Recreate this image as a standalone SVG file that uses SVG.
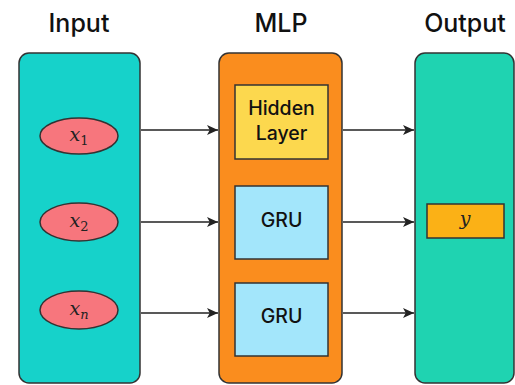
<svg xmlns="http://www.w3.org/2000/svg" width="515" height="385" viewBox="0 0 515 385">
<style>
.title{font-family:Inter,"Liberation Sans",Arial,sans-serif;font-size:25px;font-weight:500;fill:#111;text-anchor:middle}
.lbl{font-family:Inter,"Liberation Sans",Arial,sans-serif;font-size:19.5px;font-weight:500;fill:#111;text-anchor:middle}
.math{font-family:"DejaVu Serif","Liberation Serif",serif;font-style:italic;font-size:19px;fill:#222;text-anchor:middle}
.sub{font-style:normal;font-size:13px}
.panel{stroke:#333;stroke-width:1.5}
.box{stroke:#333;stroke-width:1.5}
.conn{stroke:#222;stroke-width:1.6;fill:none;marker-end:url(#ah)}
</style>
<defs>
<marker id="ah" viewBox="0 0 10 10" refX="10" refY="5" markerWidth="11" markerHeight="11" markerUnits="userSpaceOnUse" orient="auto">
<path d="M0,0.5 L10,5 L0,9.5 L2.5,5 Z" fill="#222"/>
</marker>
</defs>
<rect width="515" height="385" fill="#fff"/>
<text class="title" x="79" y="32">Input</text>
<text class="title" x="281" y="32">MLP</text>
<text class="title" x="465" y="32">Output</text>

<g id="input">
<rect class="panel" x="19" y="53" width="121" height="330" rx="10" fill="#16d2ca"/>
</g>
<g id="mlp">
<rect class="panel" x="219" y="53" width="123" height="330" rx="10" fill="#fa8d1e"/>
</g>
<g id="output">
<rect class="panel" x="415" y="53" width="99" height="330" rx="10" fill="#1fd3b1"/>
</g>

<g id="x1">
<ellipse class="box" cx="79" cy="136" rx="39" ry="18" fill="#f7767d"/>
<text class="math" x="79" y="141">x<tspan class="sub" dy="4">1</tspan></text>
</g>
<g id="x2">
<ellipse class="box" cx="79" cy="222" rx="39" ry="19" fill="#f7767d"/>
<text class="math" x="79" y="227">x<tspan class="sub" dy="4">2</tspan></text>
</g>
<g id="xn">
<ellipse class="box" cx="79" cy="310" rx="39" ry="19" fill="#f7767d"/>
<text class="math" x="79" y="315">x<tspan class="sub" dy="4" style="font-style:italic">n</tspan></text>
</g>

<g id="hidden">
<rect class="box" x="235" y="85" width="93" height="74" fill="#fcd84e"/>
<text class="lbl" x="281.5" y="115">Hidden</text>
<text class="lbl" x="281.5" y="140">Layer</text>
</g>
<g id="gru1">
<rect class="box" x="235" y="186" width="93" height="73" fill="#a3e6fb"/>
<text class="lbl" x="281.5" y="227">GRU</text>
</g>
<g id="gru2">
<rect class="box" x="235" y="283" width="93" height="73" fill="#a3e6fb"/>
<text class="lbl" x="281.5" y="323">GRU</text>
</g>
<g id="y">
<rect class="box" x="427" y="204" width="77" height="34" fill="#fbb116"/>
<text class="math" x="465" y="225">y</text>
</g>

<g id="connectors">
<line class="conn" x1="141" y1="130" x2="218" y2="130"/>
<line class="conn" x1="141" y1="222" x2="218" y2="222"/>
<line class="conn" x1="141" y1="313" x2="218" y2="313"/>
<line class="conn" x1="343" y1="130" x2="414" y2="130"/>
<line class="conn" x1="343" y1="222" x2="414" y2="222"/>
<line class="conn" x1="343" y1="313" x2="414" y2="313"/>
</g>
</svg>
